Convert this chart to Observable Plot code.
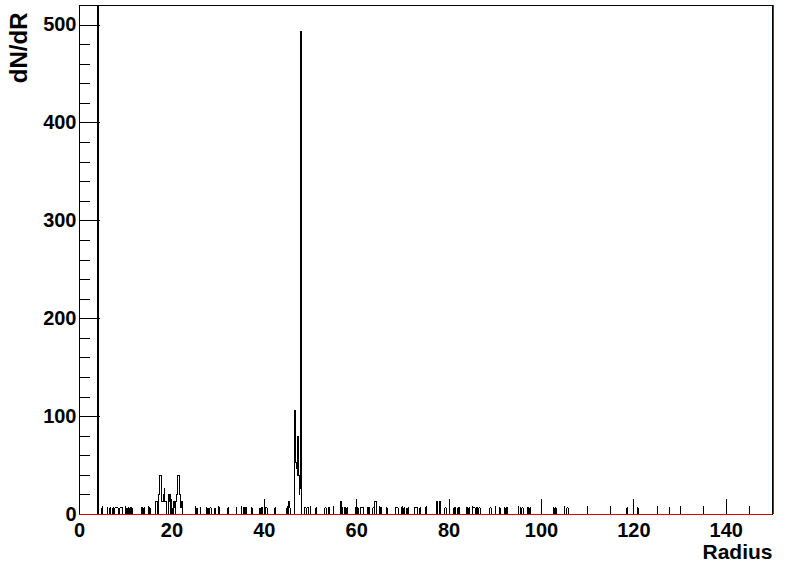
<!DOCTYPE html>
<html><head><meta charset="utf-8">
<script src="https://cdn.jsdelivr.net/npm/d3@7"></script>
<script src="https://cdn.jsdelivr.net/npm/@observablehq/plot@0.6"></script>
<style>
body{margin:0;background:#fff}
#chart svg{display:block}
</style>
</head><body><div id="chart"></div>
<script>
// Histogram: bin width and non-empty bins (radius inside bin, entries in bin)
const binWidth = 0.15;
const binRadius = [
 3.95,
 4.85, 6.0, 6.7, 7.2,
 7.75, 7.9, 8.05, 8.2, 8.35,
 8.7, 8.85, 9.0, 9.15,
 9.95, 10.25, 10.55, 10.75,
 11.05, 11.3,
 13.4, 13.7, 14.0,
 14.85, 15.2,
 16.5, 16.65,
 17.1, 17.25, 17.4, 17.55, 17.7, 17.85, 18.0, 18.15, 18.3, 18.45, 18.6, 18.75,
 19.2, 19.35, 19.5, 19.65, 19.95, 20.25, 20.4, 20.55,
 20.85, 21.0, 21.15, 21.3, 21.45, 21.6, 21.75, 21.9, 22.05, 22.2,
 25.35, 26.2, 27.45, 27.75, 28.2, 28.35, 29.25, 30.2, 32.1, 33.9,
 35.4, 35.55, 35.85, 36.0, 37.2,
 39.0, 39.3, 39.45, 40.2, 40.35, 40.5, 42.3,
 44.95, 45.15, 45.3, 45.45,
 46.55, 46.7, 46.85, 47.0, 47.15, 47.3, 47.45, 47.6, 47.75, 47.9, 48.05,
 48.7, 48.85, 49.0, 49.3, 49.45, 49.6,
 51.2, 53.1, 53.3, 53.95, 54.1,
 56.4, 56.55, 56.85, 57.3, 57.45, 58.0,
 59.75, 60.25, 60.85, 61.0, 61.15, 61.3, 61.45,
 62.3, 62.45, 62.75,
 63.5, 63.65, 63.95, 64.1, 65.2, 65.35, 66.5,
 68.4, 68.55, 68.7, 68.85,
 69.6, 69.9, 70.2, 70.8, 71.1,
 72.45, 72.6, 72.75, 72.9, 73.05, 73.7, 74.85,
 77.35, 77.5, 77.95, 78.1,
 79.1, 79.25,
 81.0, 81.3, 82.0, 82.3,
 83.7, 84.0, 84.3,
 85.05, 85.2, 85.35, 85.5,
 86.05, 86.2, 86.5, 86.65,
 88.8, 88.95, 90.9, 92.0, 92.45, 92.6,
 95.4, 95.7, 95.85,
 97.0, 97.3, 97.6,
 102.6, 103.1, 105.45, 105.6,
 118.55, 120.75, 127.7
];
const binCount = [
 90,
 1, 1, 1, 1,
 1, 1, 1, 1, 1,
 1, 1, 1, 1,
 1, 1, 1, 1,
 1, 1,
 1, 1, 1,
 1, 1,
 2, 2,
 3, 4, 6, 6, 4, 2, 2, 3, 4, 2, 2, 1,
 3, 2, 3, 1, 1, 1, 2, 1,
 2, 3, 5, 6, 6, 4, 3, 1, 2, 1,
 1, 1, 1, 1, 1, 1, 1, 1, 1, 1,
 1, 1, 1, 1, 1,
 1, 1, 1, 1, 1, 1, 1,
 1, 2, 2, 1,
 16, 8, 8, 7, 6, 12, 6, 3, 4, 74, 73,
 1, 1, 1, 1, 1, 1,
 1, 1, 1, 1, 1,
 2, 2, 1, 1, 1, 1,
 1, 1, 1, 1, 1, 1, 1,
 1, 1, 1,
 1, 1, 2, 2, 1, 1, 1,
 1, 1, 1, 1,
 1, 1, 1, 1, 1,
 1, 1, 1, 1, 1, 1, 1,
 2, 2, 2, 2,
 1, 1,
 1, 1, 1, 1,
 1, 1, 1,
 1, 1, 1, 1,
 1, 1, 1, 1,
 1, 1, 1, 1, 1, 1,
 1, 1, 1,
 1, 1, 1,
 1, 1, 1, 1,
 1, 1, 1
];
const xRange = [0, 150];
const yRange = [0, 520];
const xMajorTicks = [0, 20, 40, 60, 80, 100, 120, 140];
const xMinorTicks = [5, 10, 15, 25, 30, 35, 45, 50, 55, 65, 70, 75, 85, 90, 95, 105, 110, 115, 125, 130, 135, 145];
const yMajorTicks = [0, 100, 200, 300, 400, 500];
const yMinorTicks = [20, 40, 60, 80, 120, 140, 160, 180, 220, 240, 260, 280, 320, 340, 360, 380, 420, 440, 460, 480];
const xTitle = "Radius";
const yTitle = "dN/dR";

// build full histogram (dN/dR = entries / bin width)
const nBins = Math.round((xRange[1] - xRange[0]) / binWidth);
const counts = new Array(nBins).fill(0);
binRadius.forEach((r, i) => {
  const k = Math.floor(r / binWidth + 1e-6);
  if (k >= 0 && k < nBins) counts[k] += binCount[i];
});
const hist = counts.map((c, i) => ({r: xRange[0] + i * binWidth, v: c / binWidth}));
hist.push({r: xRange[1], v: 0});

const W = 796, H = 572;
const mL = 79, mR = 24, mT = 5, mB = 58;
const fw = W - mL - mR, fh = H - mT - mB;

const font = "'Liberation Sans', Arial, Helvetica, sans-serif";

const chart = Plot.plot({
  width: W, height: H,
  marginLeft: mL, marginRight: mR, marginTop: mT, marginBottom: mB,
  x: {domain: xRange},
  y: {domain: yRange},
  style: {fontFamily: font, fontSize: "20px", fontWeight: "bold", color: "black", background: "white", shapeRendering: "crispEdges"},
  marks: [
    Plot.line(hist, {x: "r", y: "v", curve: "step-after", stroke: "black", strokeWidth: 1, clip: true}),
    Plot.frame({stroke: "black", strokeWidth: 1}),
    Plot.tickY(yMajorTicks, {y: d => d, stroke: "black", insetRight: fw - 21}),
    Plot.tickY(yMinorTicks, {y: d => d, stroke: "black", insetRight: fw - 11}),
    Plot.tickX(xMajorTicks, {x: d => d, stroke: "black", insetTop: fh - 15}),
    Plot.tickX(xMinorTicks, {x: d => d, stroke: "black", insetTop: fh - 8}),
    Plot.ruleY([0], {stroke: "#e00000", strokeWidth: 1.2}),
    Plot.ruleX([xRange[1]], {stroke: "#e00000", strokeWidth: 1.2, dx: 1}),
    Plot.axisY(yMajorTicks, {anchor: "left", tickSize: 0, tickPadding: 3, fontSize: 20, fontWeight: "bold", label: null}),
    Plot.axisX(xMajorTicks, {anchor: "bottom", tickSize: 0, tickPadding: 8, fontSize: 20, fontWeight: "bold", label: null}),
    Plot.text([yTitle], {text: d => d, frameAnchor: "top-left", rotate: -90, textAnchor: "end", lineAnchor: "middle", dx: -60, dy: 7, fontSize: 24, fontWeight: "bold"}),
    Plot.text([xTitle], {text: d => d, frameAnchor: "bottom-right", textAnchor: "end", lineAnchor: "middle", dy: 38, fontSize: 21, fontWeight: "bold"})
  ]
});
document.getElementById("chart").appendChild(chart);
</script>
</body></html>
